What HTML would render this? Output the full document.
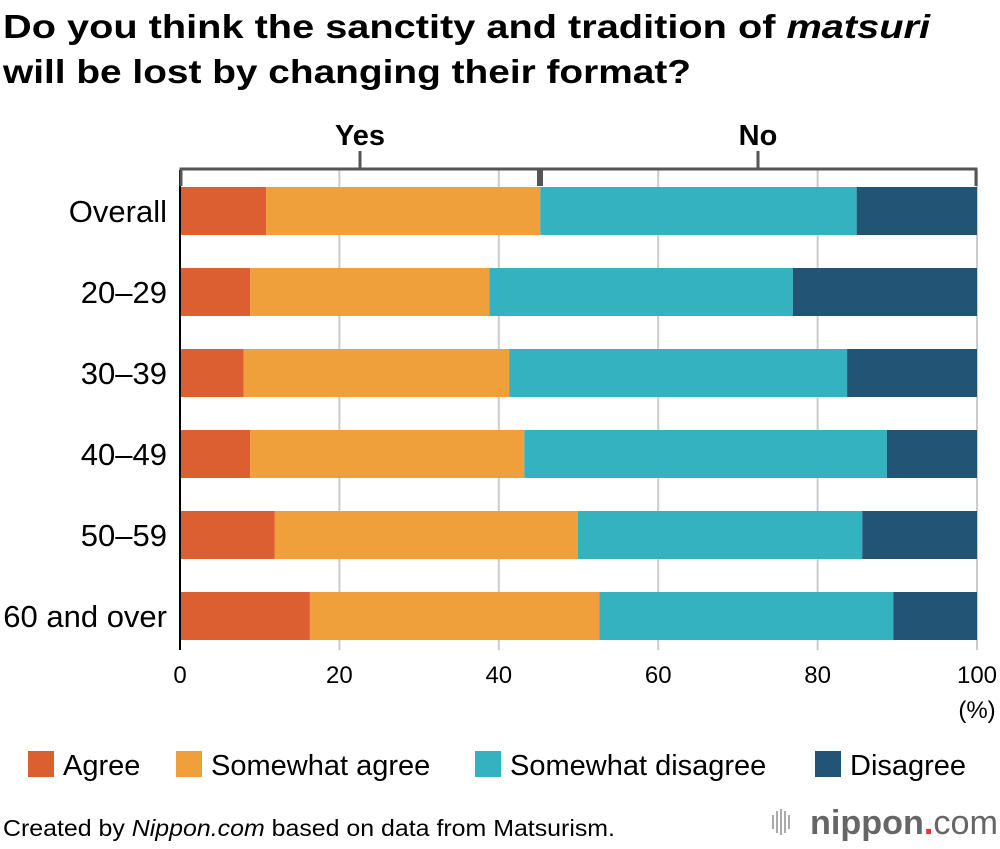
<!DOCTYPE html>
<html><head><meta charset="utf-8"><style>
body{margin:0;background:#fff;font-family:"Liberation Sans",Arial,sans-serif}
</style></head><body>
<svg width="1000" height="844" xmlns="http://www.w3.org/2000/svg" font-family="Liberation Sans, Arial, sans-serif">
<text x="3" y="38" font-size="33" font-weight="bold" fill="#000" textLength="927" lengthAdjust="spacingAndGlyphs">Do you think the sanctity and tradition of <tspan font-style="italic">matsuri</tspan></text>
<text x="3" y="83" font-size="33" font-weight="bold" fill="#000" textLength="688" lengthAdjust="spacingAndGlyphs">will be lost by changing their format?</text>
<g id="grid"></g>
<g id="bars"></g>
<g id="bracket" stroke="#555" fill="none">
<path d="M181 186 V169 H976 V186" stroke-width="3"/>
<line x1="360" y1="151" x2="360" y2="169" stroke-width="3"/>
<line x1="758" y1="151" x2="758" y2="169" stroke-width="3"/>
<line x1="540" y1="169" x2="540" y2="186" stroke-width="6"/>
</g>
<text x="360" y="145" font-size="29" font-weight="bold" text-anchor="middle">Yes</text>
<text x="758" y="145" font-size="29" font-weight="bold" text-anchor="middle">No</text>
<g id="axis"></g>
<text x="977" y="718" font-size="24" text-anchor="middle">(%)</text>
<g id="legend" font-size="29"></g>
<text x="3" y="836" font-size="23" textLength="612" lengthAdjust="spacingAndGlyphs">Created by <tspan font-style="italic">Nippon.com</tspan> based on data from Matsurism.</text>
<g>
<g fill="#aaa"><rect x="772" y="815" width="2" height="14"/><rect x="776" y="811" width="2" height="22"/><rect x="780" y="809" width="2" height="26"/><rect x="784" y="811" width="2" height="22"/><rect x="788" y="815" width="2" height="14"/></g>
<text x="810" y="834" font-size="34" fill="#666" font-weight="bold" textLength="188" lengthAdjust="spacingAndGlyphs">nippon<tspan fill="#e33">.</tspan><tspan font-weight="normal">com</tspan></text>
</g>
</svg>
<script>
const categories=["Overall","20–29","30–39","40–49","50–59","60 and over"];
const agree=[10.8,8.8,8.0,8.8,11.9,16.3];
const somewhatAgree=[34.4,30.0,33.3,34.4,38.0,36.3];
const somewhatDisagree=[39.7,38.1,42.4,45.5,35.7,36.9];
const disagree=[15.1,23.1,16.3,11.3,14.4,10.5];
const seriesNames=["Agree","Somewhat agree","Somewhat disagree","Disagree"];
const colors=["#dc5f32","#f0a03a","#35b2bf","#225575"];
const ticks=[0,20,40,60,80,100];
const NS="http://www.w3.org/2000/svg";
const x=v=>180+v*7.97;
const yTop=i=>187+i*81;
const BH=48;
function mk(t,a,p){const e=document.createElementNS(NS,t);for(const k in a)e.setAttribute(k,a[k]);p.appendChild(e);return e;}
const grid=document.getElementById('grid'),bars=document.getElementById('bars'),axis=document.getElementById('axis'),leg=document.getElementById('legend');
ticks.forEach(t=>{
 const l=mk('line',{x1:x(t),x2:x(t),y1:170,y2:650,stroke:t===0?'#000':'#ccc','stroke-width':2},grid);
 
 
 const tx=mk('text',{x:x(t),y:683,'font-size':24,'text-anchor':'middle'},axis);
 tx.textContent=t;
 
 
});
const series=[agree,somewhatAgree,somewhatDisagree,disagree];
categories.forEach((c,i)=>{
 let acc=0;
 series.forEach((s,j)=>{
  const r=mk('rect',{x:x(acc),y:yTop(i),width:x(acc+s[i])-x(acc),height:BH,fill:colors[j]},bars);
  
  
  acc+=s[i];
 });
 const t=mk('text',{x:167,y:yTop(i)+BH/2+11,'font-size':31,'text-anchor':'end'},axis);
 t.textContent=c;
 
 
});
mk('line',{x1:180,x2:180,y1:186,y2:650,stroke:'#000','stroke-width':2},bars);
const lx=[28,176,475,815];
seriesNames.forEach((n,j)=>{
 const r=mk('rect',{x:lx[j],y:751,width:26,height:26,fill:colors[j]},leg);
 
 
 const t=mk('text',{x:lx[j]+35,y:775},leg);
 t.textContent=n;
 
 
});
</script>
</body></html>
